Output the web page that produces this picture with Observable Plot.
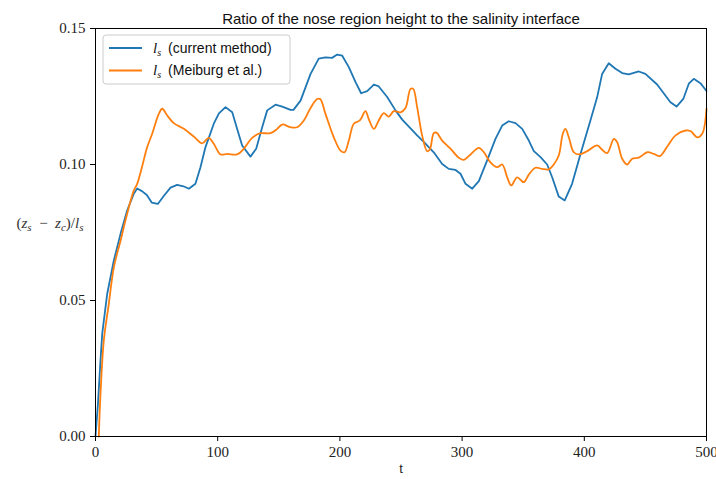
<!DOCTYPE html>
<html>
<head>
<meta charset="utf-8">
<script src="https://cdn.jsdelivr.net/npm/d3@7"></script>
<script src="https://cdn.jsdelivr.net/npm/@observablehq/plot@0.6"></script>
<style>
  html, body { margin: 0; padding: 0; background: white; }
</style>
</head>
<body>
<div id="chart"></div>
<script>
const titleText = "Ratio of the nose region height to the salinity interface";
const xLabel = "t";
const xTicks = [0, 100, 200, 300, 400, 500];
const yTicks = [0, 0.05, 0.10, 0.15];
const seriesNames = ["current method", "Meiburg et al."];
const seriesColors = ["#1f77b4", "#ff7f0e"];

const tBlue = [0, 2, 4.1, 5.5, 9.6, 15, 20.5, 25.9, 31.3, 34.1, 38, 42, 46, 51, 56, 61.4, 66.8, 72, 76.4, 81.8, 85.9, 90, 96.8, 101, 106.4, 111.9, 116, 120, 126.8, 131.5, 136.4, 140.5, 147.3, 152.8, 159.6, 162, 167.8, 176, 182.7, 188.2, 193.6, 197.8, 201.9, 207.3, 212.8, 217.4, 222.3, 227.8, 231.8, 238.7, 245.5, 251, 257.8, 263.2, 270, 276.8, 283.7, 289.1, 294.6, 298.7, 302.8, 308.3, 313.7, 320.5, 327.3, 332.8, 338.2, 343.7, 349.2, 354.6, 358.7, 364.2, 369.6, 373.7, 379.1, 384, 390, 396.9, 405, 410.5, 414.6, 420, 425.5, 431, 436.4, 444.6, 450, 459.6, 470.5, 475.5, 481, 485.5, 489.6, 495, 500];
const vBlue = [0, 0.012, 0.028, 0.0378, 0.0525, 0.0647, 0.0745, 0.0831, 0.0892, 0.0912, 0.0902, 0.0888, 0.0860, 0.0855, 0.0885, 0.0915, 0.0925, 0.0920, 0.0911, 0.0929, 0.0990, 0.1064, 0.1150, 0.1188, 0.1211, 0.1192, 0.1130, 0.1070, 0.1029, 0.1058, 0.1137, 0.1199, 0.1220, 0.1213, 0.1201, 0.1201, 0.1235, 0.1333, 0.1389, 0.1394, 0.1392, 0.1404, 0.1400, 0.1358, 0.1303, 0.1262, 0.1270, 0.1294, 0.1287, 0.1248, 0.1199, 0.1165, 0.1133, 0.1107, 0.1077, 0.1045, 0.1002, 0.0984, 0.0980, 0.0966, 0.0929, 0.0911, 0.0939, 0.1015, 0.1094, 0.1143, 0.1159, 0.1152, 0.1131, 0.1088, 0.1049, 0.1027, 0.1000, 0.0953, 0.0882, 0.0868, 0.0929, 0.1039, 0.1162, 0.1247, 0.1333, 0.1372, 0.1352, 0.1336, 0.1331, 0.1342, 0.1333, 0.1294, 0.1229, 0.1213, 0.1241, 0.1297, 0.1315, 0.1299, 0.1270];

const tOrange = [2.7, 4.1, 6.8, 10.9, 15, 20.5, 25.9, 31.3, 34.1, 38, 42.3, 46.4, 51.8, 54.6, 58.7, 64.1, 72.3, 80.4, 87.3, 92.7, 96.8, 102.3, 107.8, 115.9, 121.4, 128.2, 135, 143.2, 148.7, 152.8, 159.6, 165, 170.5, 176, 181.4, 184, 188.2, 195, 200.5, 203.8, 207.3, 211.4, 216.3, 220.9, 223.6, 227.8, 231.8, 235.9, 240, 244.1, 249.6, 253.7, 257.8, 260, 263.2, 267.3, 271.4, 273.6, 276.8, 279, 283.7, 290.5, 297.3, 301.4, 306.9, 313.7, 317.8, 323.2, 328.7, 332.8, 336.9, 340.2, 345.1, 350.5, 354.6, 360.1, 365.5, 371, 375, 379.1, 382.4, 384.6, 387.3, 391.4, 395.5, 402.4, 410.5, 414.6, 418.7, 424.2, 426.9, 431, 435.1, 439.2, 444.6, 451.5, 456.9, 461.9, 467.9, 474.7, 482.9, 486.9, 492.4, 496.5, 500];
const vOrange = [0, 0.0157, 0.0353, 0.0488, 0.0622, 0.0720, 0.0819, 0.0904, 0.0929, 0.0990, 0.1064, 0.1113, 0.1186, 0.1205, 0.1180, 0.1152, 0.1131, 0.1103, 0.1078, 0.1098, 0.1076, 0.1037, 0.1039, 0.1037, 0.1058, 0.1098, 0.1115, 0.1115, 0.1131, 0.1147, 0.1137, 0.1137, 0.1162, 0.1208, 0.1241, 0.1240, 0.1186, 0.1100, 0.1051, 0.1045, 0.1088, 0.1150, 0.1162, 0.1196, 0.1167, 0.1131, 0.1162, 0.1189, 0.1176, 0.1196, 0.1192, 0.1208, 0.1278, 0.1278, 0.1211, 0.1107, 0.1049, 0.1055, 0.1115, 0.1117, 0.1088, 0.1058, 0.1025, 0.1017, 0.1037, 0.1061, 0.1045, 0.1008, 0.0990, 0.1000, 0.0953, 0.0923, 0.0953, 0.0935, 0.0963, 0.0988, 0.0984, 0.0982, 0.1000, 0.1033, 0.1113, 0.1131, 0.1100, 0.1045, 0.1037, 0.1049, 0.1070, 0.1054, 0.1042, 0.1094, 0.1082, 0.1021, 0.1000, 0.1021, 0.1025, 0.1045, 0.1039, 0.1031, 0.1066, 0.1107, 0.1125, 0.1123, 0.1100, 0.1113, 0.1205];

const blue = tBlue.map((t, i) => ({t, v: vBlue[i]}));
const orange = tOrange.map((t, i) => ({t, v: vOrange[i]}));

const serif = "'Liberation Serif', 'DejaVu Serif', serif";
const sans = "'Liberation Sans', Arial, sans-serif";

const chart = Plot.plot({
  width: 716,
  height: 479,
  marginLeft: 95,
  marginRight: 10,
  marginTop: 28,
  marginBottom: 43,
  style: {fontFamily: serif, fontSize: "15px", color: "#222", background: "white"},
  x: {domain: [0, 500], label: null},
  y: {domain: [0, 0.15], label: null},
  marks: [
    Plot.line(blue, {x: "t", y: "v", stroke: seriesColors[0], strokeWidth: 1.8, curve: "linear"}),
    Plot.line(orange, {x: "t", y: "v", stroke: seriesColors[1], strokeWidth: 1.8, curve: "catmull-rom"}),
    Plot.frame({stroke: "black", strokeWidth: 1}),
    Plot.axisX({ticks: xTicks, tickSize: 5, tickPadding: 5, tickFormat: d => String(d), label: null, fontSize: 15, stroke: "black"}),
    Plot.axisY({ticks: yTicks, tickSize: 5, tickPadding: 5, tickFormat: d3.format(".2f"), label: null, fontSize: 15, stroke: "black"}),
    Plot.text([xLabel], {frameAnchor: "bottom", dy: 36, fontFamily: sans, fontSize: 13, fill: "#222"}),
    Plot.text([titleText], {frameAnchor: "top", dy: -15, fontFamily: sans, fontSize: 15, fill: "#111"})
  ]
});

document.getElementById("chart").appendChild(chart);

const svg = d3.select(chart);

// Y-axis label: (z_s − z_c)/l_s
const yl = svg.append("text")
  .attr("x", 50).attr("y", 228)
  .attr("text-anchor", "middle")
  .attr("font-family", serif)
  .attr("font-size", 15)
  .attr("fill", "#333");
yl.append("tspan").text("(");
yl.append("tspan").attr("font-style", "italic").text("z");
yl.append("tspan").attr("font-style", "italic").attr("font-size", 11).attr("dy", 3).text("s");
yl.append("tspan").attr("dy", -3).text("\u2002\u2212\u2002");
yl.append("tspan").attr("font-style", "italic").text("z");
yl.append("tspan").attr("font-style", "italic").attr("font-size", 11).attr("dy", 3).text("c");
yl.append("tspan").attr("dy", -3).text(")/");
yl.append("tspan").attr("font-style", "italic").text("l");
yl.append("tspan").attr("font-style", "italic").attr("font-size", 11).attr("dy", 3).text("s");

// Legend
const lg = svg.append("g").attr("text-anchor", "start");
lg.append("rect")
  .attr("x", 103).attr("y", 35).attr("width", 187).attr("height", 49)
  .attr("rx", 3).attr("fill", "white").attr("fill-opacity", 0.85)
  .attr("stroke", "#cccccc").attr("stroke-width", 1);
seriesNames.forEach((name, i) => {
  const y = 48 + i * 22.5;
  lg.append("line")
    .attr("x1", 109).attr("x2", 142).attr("y1", y).attr("y2", y)
    .attr("stroke", seriesColors[i]).attr("stroke-width", 1.8);
  const tx = lg.append("text")
    .attr("x", 153).attr("y", y + 4.5)
    .attr("text-anchor", "start")
    .attr("font-family", sans).attr("font-size", 14).attr("fill", "#111");
  tx.append("tspan").attr("font-family", serif).attr("font-style", "italic").attr("font-size", 15).text("l");
  tx.append("tspan").attr("font-family", serif).attr("font-style", "italic").attr("font-size", 10).attr("dy", 3).text("s");
  tx.append("tspan").attr("dy", -3).text("\u2002(" + name + ")");
});
</script>
</body>
</html>
